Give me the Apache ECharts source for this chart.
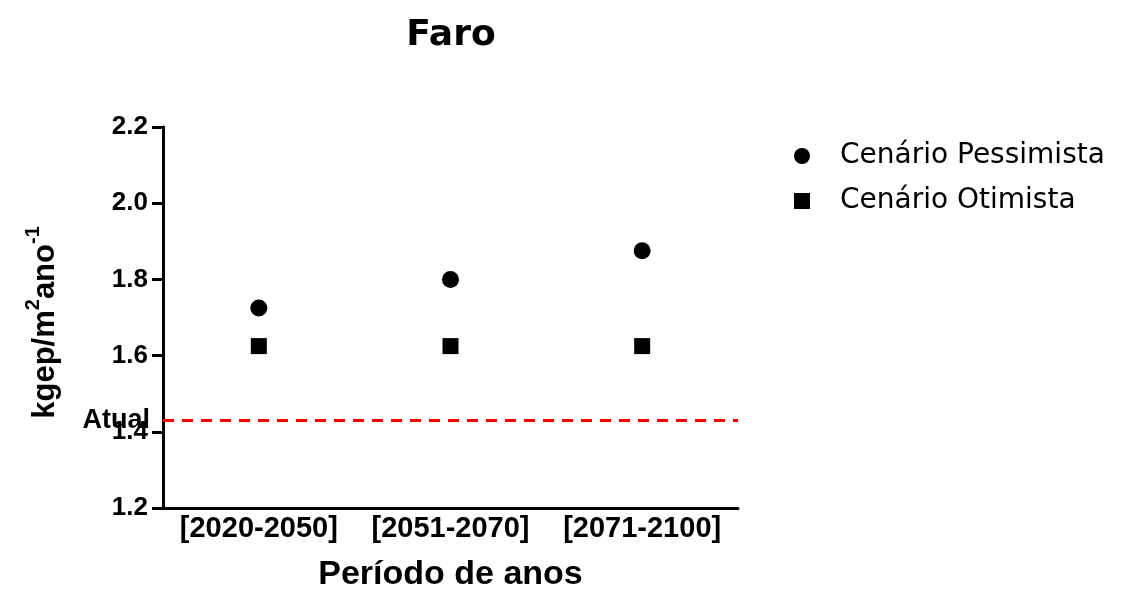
<!DOCTYPE html>
<html><head><meta charset="utf-8">
<script src="https://cdn.jsdelivr.net/npm/echarts@6/dist/echarts.min.js"></script>
<style>html,body{margin:0;padding:0;background:#fff}#c{width:1122px;height:608px}</style>
</head><body><div id="c"></div>
<script>
const categories = ['[2020-2050]', '[2051-2070]', '[2071-2100]'];
const pessimista = [1.725, 1.80, 1.875];
const otimista = [1.625, 1.625, 1.625];
const atual = 1.43;
const yTicks = {min: 1.2, max: 2.2, interval: 0.2};

const F = '"Liberation Sans", Arial, sans-serif';
const W = '"DejaVu Sans", sans-serif';
const chart = echarts.init(document.getElementById('c'));
chart.setOption({
  animation: false,
  title: {text: 'Faro', left: 446, top: 13, textAlign: 'center',
    textStyle: {fontFamily: W, fontSize: 36, fontWeight: 'bold', color: '#000'}},
  grid: {left: 163, right: 384, top: 127, bottom: 100},
  legend: {orient: 'vertical', left: 789, top: 137, itemWidth: 16, itemHeight: 16, itemGap: 17,
    textStyle: {fontFamily: W, fontSize: 28, lineHeight: 26, color: '#000', padding: [0, 0, 0, 25]},
    data: [{name: 'Cenário Pessimista', icon: 'circle'}, {name: 'Cenário Otimista', icon: 'rect'}]},
  xAxis: {type: 'category', data: categories, boundaryGap: true,
    name: 'Período de anos', nameLocation: 'middle', nameGap: 50,
    nameTextStyle: {fontFamily: F, fontSize: 34, fontWeight: 'bold', color: '#000'},
    axisLine: {lineStyle: {color: '#000', width: 3}},
    axisTick: {show: false},
    axisLabel: {interval: 0, hideOverlap: false, fontFamily: F, fontSize: 29, fontWeight: 'bold', color: '#000', margin: 6},
    splitLine: {show: false}},
  yAxis: {type: 'value', min: yTicks.min, max: yTicks.max, interval: yTicks.interval,
    name: '{a|kgep/m}{s|2}{a|ano}{s|-1}', nameLocation: 'middle', nameGap: 102,
    nameTextStyle: {padding: [0, 10, 0, 0], rich: {
      a: {fontFamily: F, fontSize: 31, fontWeight: 'bold', color: '#000', verticalAlign: 'bottom', lineHeight: 38},
      s: {fontFamily: F, fontSize: 20, fontWeight: 'bold', color: '#000', verticalAlign: 'top', lineHeight: 38}}},
    axisLine: {show: true, lineStyle: {color: '#000', width: 3}},
    axisTick: {show: true, length: 11, lineStyle: {color: '#000', width: 3}},
    axisLabel: {fontFamily: F, fontSize: 26, fontWeight: 'bold', color: '#000', margin: 15,
      formatter: v => v.toFixed(1)},
    splitLine: {show: false}},
  series: [
    {name: 'Cenário Pessimista', type: 'scatter', symbol: 'circle', symbolSize: 17,
      itemStyle: {color: '#000', opacity: 1}, data: pessimista,
      markLine: {silent: true, symbol: 'none',
        lineStyle: {color: '#ff0000', type: [11, 8], width: 3, opacity: 1},
        label: {show: true, position: 'start', formatter: 'Atual', distance: 13,
          fontFamily: F, fontSize: 27, fontWeight: 'bold', color: '#000'},
        data: [{yAxis: atual}]}},
    {name: 'Cenário Otimista', type: 'scatter', symbol: 'rect', symbolSize: 16,
      itemStyle: {color: '#000', opacity: 1}, data: otimista}
  ]
});
</script></body></html>
